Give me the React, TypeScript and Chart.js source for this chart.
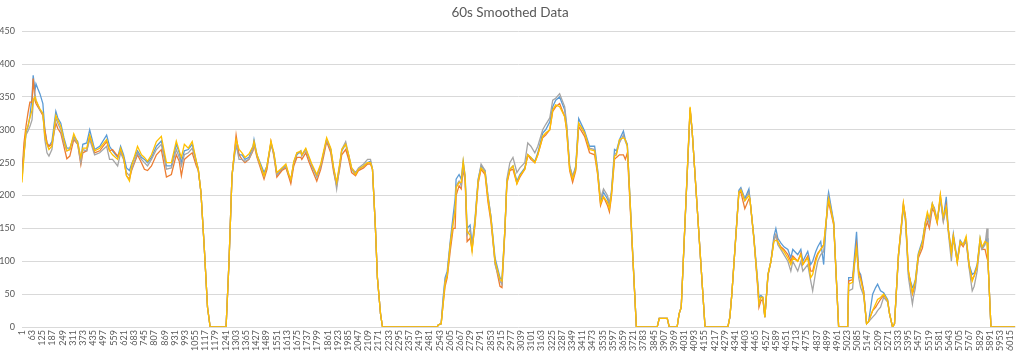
import React, { useEffect, useRef } from "react";
import { Chart, registerables } from "chart.js";

Chart.register(...registerables);

const chartTitle = "60s Smoothed Data";

// sample position (row number) of each reading
const sampleIdx = [
  1, 13, 25, 37, 49, 62, 69, 80, 86, 98, 110, 128, 140, 153, 165, 183, 207, 219, 237, 256,
  274, 292, 316, 340, 359, 371, 395, 413, 443, 474, 516, 534, 552, 583, 601, 619, 637, 655, 668, 704,
  728, 746, 765, 789, 819, 849, 880, 910, 940, 958, 971, 989, 1013, 1037, 1062, 1074, 1090, 1110, 1130, 1146,
  1243, 1261, 1279, 1292, 1304, 1322, 1340, 1358, 1382, 1407, 1413, 1431, 1474, 1492, 1516, 1534, 1552, 1583, 1607, 1625,
  1637, 1655, 1674, 1698, 1704, 1728, 1746, 1765, 1795, 1819, 1837, 1855, 1880, 1898, 1916, 1934, 1947, 1971, 1989, 2007,
  2031, 2049, 2080, 2104, 2122, 2134, 2152, 2164, 2183, 2195, 2528, 2534, 2552, 2564, 2576, 2589, 2607, 2625, 2637, 2643,
  2661, 2674, 2686, 2698, 2710, 2728, 2740, 2758, 2777, 2795, 2819, 2837, 2855, 2880, 2910, 2922, 2940, 2952, 2970, 2989,
  3013, 3031, 3061, 3079, 3098, 3122, 3140, 3170, 3188, 3213, 3231, 3249, 3273, 3304, 3316, 3334, 3352, 3371, 3389, 3425,
  3455, 3486, 3504, 3522, 3540, 3564, 3576, 3588, 3607, 3619, 3637, 3661, 3673, 3685, 3740, 3867, 3879, 3928, 3940, 3988,
  4000, 4013, 4067, 4079, 4158, 4297, 4309, 4321, 4364, 4376, 4400, 4425, 4431, 4455, 4480, 4486, 4498, 4510, 4522, 4541,
  4559, 4577, 4589, 4601, 4619, 4638, 4662, 4680, 4692, 4722, 4741, 4753, 4783, 4801, 4813, 4832, 4844, 4862, 4880, 4904,
  4910, 4941, 4971, 5026, 5032, 5056, 5068, 5080, 5093, 5105, 5123, 5141, 5153, 5178, 5196, 5208, 5226, 5245, 5269, 5281,
  5299, 5311, 5335, 5359, 5365, 5378, 5396, 5420, 5426, 5438, 5456, 5481, 5499, 5511, 5523, 5541, 5553, 5571, 5590, 5608,
  5626, 5638, 5657, 5669, 5693, 5711, 5729, 5747, 5765, 5784, 5796, 5814, 5832, 5844, 5862, 5874, 5880, 5898, 6046,
];

const seriesBlue = [
  238, 265, 295, 305, 320, 350, 383, 360, 370, 362, 355, 340, 300, 280, 275, 282, 328, 318, 310, 288,
  272, 272, 290, 282, 255, 278, 280, 300, 270, 275, 292, 275, 268, 258, 275, 262, 242, 238, 248, 268,
  258, 255, 250, 258, 275, 283, 245, 245, 278, 265, 250, 268, 270, 278, 252, 240, 205, 122, 30, 0,
  0, 100, 230, 260, 275, 262, 262, 255, 258, 275, 285, 262, 235, 245, 278, 265, 232, 240, 245, 230,
  222, 250, 262, 268, 262, 270, 258, 245, 230, 245, 265, 285, 270, 240, 218, 245, 268, 278, 260, 240,
  232, 240, 245, 250, 252, 240, 150, 75, 20, 0, 0, 3, 5, 45, 75, 85, 130, 170, 195, 225,
  232, 225, 252, 230, 150, 155, 125, 165, 225, 245, 238, 198, 168, 105, 75, 72, 150, 222, 240, 245,
  222, 232, 242, 262, 258, 252, 265, 295, 300, 312, 335, 345, 350, 330, 305, 245, 228, 245, 317, 298,
  275, 275, 240, 190, 205, 195, 185, 205, 270, 268, 285, 298, 285, 278, 0, 0, 13, 13, 0, 0,
  20, 30, 330, 300, 0, 0, 15, 50, 208, 212, 195, 210, 195, 138, 65, 45, 48, 45, 15, 80,
  100, 138, 150, 135, 128, 122, 118, 105, 118, 110, 118, 100, 115, 95, 100, 115, 122, 130, 95, 195,
  205, 160, 0, 0, 75, 75, 110, 145, 85, 80, 55, 5, 8, 50, 60, 65, 55, 52, 42, 20,
  0, 5, 110, 168, 185, 165, 80, 60, 62, 72, 112, 132, 160, 170, 160, 188, 180, 160, 195, 165,
  198, 150, 115, 142, 102, 132, 125, 135, 95, 80, 82, 95, 135, 120, 128, 135, 100, 0, 0,
];

const seriesOrange = [
  232, 280, 305, 325, 342, 342, 378, 345, 340, 335, 330, 322, 300, 280, 275, 278, 310, 302, 295, 275,
  256, 260, 285, 278, 247, 265, 268, 290, 265, 268, 282, 268, 270, 260, 268, 258, 230, 225, 238, 262,
  250, 240, 238, 245, 262, 270, 228, 232, 262, 252, 230, 255, 260, 265, 245, 238, 205, 122, 30, 0,
  0, 100, 230, 262, 292, 262, 255, 250, 255, 268, 278, 258, 225, 240, 282, 260, 228, 238, 242, 228,
  218, 245, 258, 258, 255, 265, 252, 240, 222, 240, 260, 282, 265, 235, 215, 240, 262, 270, 255, 235,
  230, 238, 242, 248, 248, 240, 150, 75, 20, 0, 0, 3, 5, 35, 62, 75, 115, 150, 150, 200,
  215, 210, 240, 222, 130, 135, 118, 155, 218, 240, 232, 190, 160, 98, 62, 60, 145, 218, 238, 240,
  218, 228, 240, 262, 255, 250, 262, 288, 292, 300, 328, 335, 340, 320, 298, 238, 220, 238, 305, 290,
  265, 262, 232, 185, 198, 185, 175, 198, 255, 258, 262, 262, 255, 265, 0, 0, 13, 13, 0, 0,
  20, 30, 333, 300, 0, 0, 15, 50, 205, 205, 180, 195, 195, 135, 55, 30, 40, 42, 15, 78,
  100, 132, 140, 130, 122, 118, 110, 100, 108, 100, 112, 95, 108, 85, 85, 105, 112, 118, 125, 180,
  190, 155, 0, 0, 70, 72, 100, 125, 85, 75, 55, 5, 8, 25, 30, 35, 42, 48, 40, 20,
  0, 5, 110, 172, 188, 168, 85, 50, 55, 65, 105, 120, 150, 160, 150, 180, 175, 158, 200, 162,
  185, 148, 112, 138, 98, 128, 122, 132, 92, 72, 78, 92, 130, 118, 118, 105, 100, 0, 0,
];

const seriesGray = [
  225, 262, 292, 298, 305, 315, 340, 355, 345, 338, 330, 325, 285, 265, 260, 270, 318, 310, 300, 280,
  268, 270, 288, 278, 250, 270, 268, 285, 262, 265, 275, 255, 255, 245, 265, 255, 235, 230, 240, 265,
  255, 250, 245, 255, 270, 278, 240, 242, 270, 258, 245, 262, 265, 272, 250, 238, 205, 122, 30, 0,
  0, 100, 230, 255, 278, 255, 255, 252, 255, 270, 280, 260, 230, 245, 280, 262, 232, 242, 245, 232,
  225, 250, 265, 265, 260, 270, 258, 245, 228, 245, 265, 285, 270, 240, 210, 245, 270, 282, 262, 242,
  235, 242, 248, 255, 255, 240, 150, 75, 20, 0, 0, 3, 5, 40, 72, 80, 125, 160, 180, 215,
  222, 215, 245, 225, 140, 148, 120, 160, 222, 248, 238, 200, 168, 95, 70, 65, 148, 225, 250, 258,
  235, 242, 250, 280, 275, 265, 275, 300, 308, 318, 345, 348, 355, 335, 308, 245, 230, 242, 310, 295,
  272, 270, 238, 195, 210, 200, 188, 205, 262, 265, 280, 292, 282, 275, 0, 0, 13, 13, 0, 0,
  20, 30, 330, 300, 0, 0, 15, 50, 205, 210, 192, 205, 195, 135, 60, 35, 45, 45, 15, 80,
  100, 132, 140, 125, 118, 110, 100, 85, 100, 85, 100, 85, 95, 70, 55, 85, 100, 110, 115, 185,
  198, 158, 0, 0, 55, 58, 95, 120, 75, 60, 48, 5, 8, 15, 20, 25, 30, 45, 38, 20,
  0, 5, 105, 165, 182, 160, 75, 35, 45, 60, 108, 128, 158, 168, 158, 185, 182, 162, 195, 160,
  180, 145, 100, 135, 100, 130, 125, 130, 90, 55, 62, 85, 128, 118, 125, 150, 100, 0, 0,
];

const seriesYellow = [
  220, 260, 298, 305, 318, 330, 345, 350, 345, 338, 332, 325, 290, 278, 270, 275, 322, 315, 305, 285,
  268, 270, 294, 280, 258, 272, 272, 292, 268, 272, 285, 268, 262, 255, 272, 258, 230, 222, 245, 275,
  262, 258, 252, 262, 282, 290, 250, 250, 283, 268, 258, 278, 272, 282, 252, 240, 205, 122, 30, 0,
  0, 100, 230, 262, 285, 270, 265, 258, 263, 275, 282, 262, 230, 245, 283, 265, 235, 242, 248, 232,
  224, 252, 265, 268, 262, 272, 260, 248, 232, 248, 268, 288, 272, 242, 220, 248, 270, 278, 262, 242,
  232, 240, 245, 250, 250, 240, 150, 75, 20, 0, 0, 3, 5, 35, 68, 78, 125, 158, 175, 212,
  220, 220, 252, 228, 145, 140, 115, 160, 222, 242, 235, 195, 165, 100, 72, 70, 150, 220, 240, 245,
  218, 230, 240, 262, 258, 250, 262, 290, 295, 300, 330, 338, 335, 320, 300, 240, 225, 240, 310, 295,
  270, 268, 235, 188, 198, 190, 180, 200, 260, 262, 285, 288, 285, 275, 0, 0, 13, 13, 0, 0,
  20, 30, 335, 300, 0, 0, 15, 50, 205, 208, 192, 200, 195, 135, 60, 35, 45, 45, 15, 80,
  100, 130, 132, 130, 120, 115, 105, 95, 105, 100, 110, 95, 105, 75, 80, 100, 110, 118, 125, 185,
  195, 158, 0, 0, 65, 68, 100, 120, 80, 72, 52, 5, 8, 25, 35, 42, 45, 50, 40, 20,
  0, 5, 110, 170, 188, 165, 85, 52, 58, 70, 110, 128, 160, 175, 165, 188, 178, 160, 202, 168,
  182, 150, 112, 138, 98, 130, 125, 138, 95, 70, 78, 92, 135, 122, 130, 128, 100, 0, 0,
];

const xFirstTick = 1;
const xTickStep = 62;
const xLastTick = 6015;
const xTickLabels: number[] = [];
for (let v = xFirstTick; v <= xLastTick; v += xTickStep) xTickLabels.push(v);

const yTickLabels = [0, 50, 100, 150, 200, 250, 300, 350, 400, 450];

const seriesNames = ["Series1", "Series2", "Series3", "Series4"];
const seriesColors = ["#5B9BD5", "#ED7D31", "#A5A5A5", "#FFC000"];

const FONT = "Lato, 'Open Sans', sans-serif";

export default function App() {
  const canvasRef = useRef<HTMLCanvasElement | null>(null);

  useEffect(() => {
    if (!canvasRef.current) return;
    const all = [seriesBlue, seriesOrange, seriesGray, seriesYellow];
    const datasets = all.map((ys, i) => ({
      label: seriesNames[i],
      data: sampleIdx.map((x, j) => ({ x, y: ys[j] })),
      borderColor: seriesColors[i],
      backgroundColor: seriesColors[i],
      borderWidth: 1.3,
      pointRadius: 0,
      tension: 0,
      fill: false,
      order: 4 - i,
    }));
    const chart = new Chart(canvasRef.current, {
      type: "line",
      data: { datasets },
      options: {
        animation: false,
        responsive: true,
        maintainAspectRatio: false,
        layout: { padding: { left: 0, right: 4, top: 0, bottom: 0 } },
        plugins: {
          legend: { display: false },
          tooltip: { enabled: false },
          title: {
            display: true,
            text: chartTitle,
            color: "#595959",
            font: { family: FONT, size: 13.5, weight: "normal" },
            padding: { top: 5, bottom: 10 },
          },
        },
        scales: {
          x: {
            type: "linear",
            min: 1,
            max: 6046,
            grid: { display: false, drawTicks: false },
            border: { display: false },
            afterBuildTicks: (axis: any) => {
              axis.ticks = xTickLabels.map((v) => ({ value: v }));
            },
            afterFit: (axis: any) => {
              axis.height = 31;
            },
            ticks: {
              autoSkip: false,
              minRotation: 90,
              maxRotation: 90,
              padding: 3,
              color: "#595959",
              font: { family: FONT, size: 9 },
              callback: (v: any) => String(v),
            },
          },
          y: {
            min: 0,
            max: 450,
            afterBuildTicks: (axis: any) => {
              axis.ticks = yTickLabels.map((v) => ({ value: v }));
            },
            afterFit: (axis: any) => {
              axis.width = 22;
            },
            grid: { color: "#d9d9d9", drawTicks: false, lineWidth: 1 },
            border: { display: false },
            ticks: {
              padding: 7,
              color: "#595959",
              font: { family: FONT, size: 9 },
            },
          },
        },
      },
    });
    return () => chart.destroy();
  }, []);

  return (
    <div style={{ position: "absolute", left: 0, top: 0, width: 1024, height: 358, background: "#fff" }}>
      <canvas ref={canvasRef} />
    </div>
  );
}
